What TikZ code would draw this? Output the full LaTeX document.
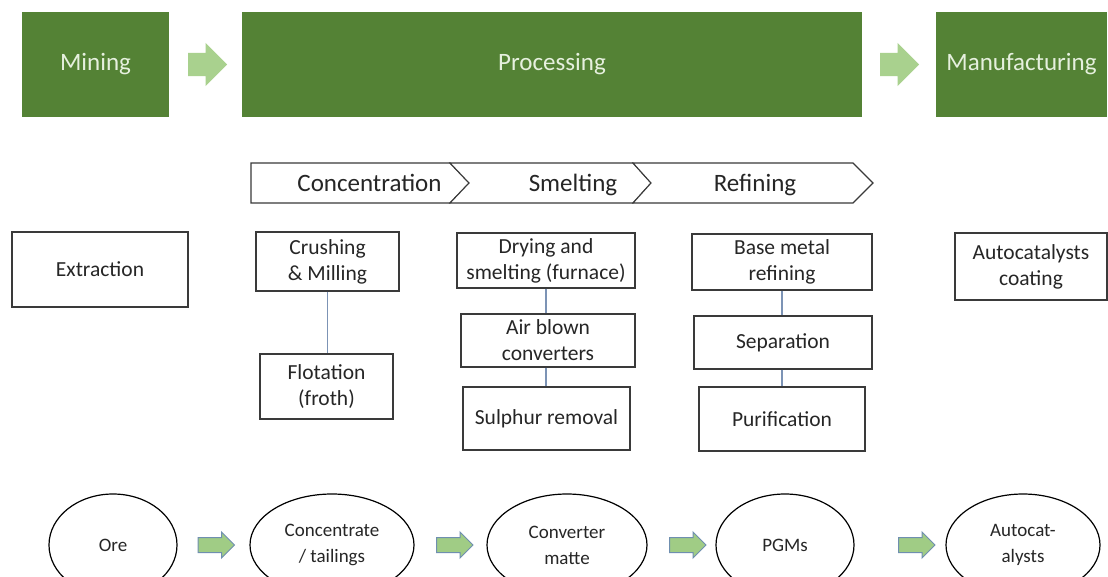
\documentclass[tikz,border=0pt]{standalone}
\usepackage{fontspec}
\setmainfont{Carlito}
\usetikzlibrary{shapes.geometric,shapes.arrows}

\definecolor{stagegreen}{HTML}{548235}
\definecolor{stagetext}{HTML}{E6F0DE}
\definecolor{paleGreen}{HTML}{A9D18E}
\definecolor{flowGreen}{HTML}{A0CC85}
\definecolor{flowEdge}{HTML}{6F8FB0}
\definecolor{boxline}{HTML}{3A3A3A}
\definecolor{linkblue}{HTML}{7C93B5}
\definecolor{inktext}{HTML}{262626}

\tikzset{
  stage/.style={rectangle, fill=stagegreen, draw=none, text=stagetext,
    inner sep=0pt, font=\fontsize{25}{30}\selectfont},
  bigarrow/.style={single arrow, fill=paleGreen, draw=none,
    inner xsep=0pt, inner ysep=11.5pt,
    minimum height=39pt, single arrow head extend=10pt, anchor=tail},
  flowarrow/.style={single arrow, fill=flowGreen, draw=flowEdge, line width=1pt,
    inner xsep=0pt, inner ysep=7pt, minimum height=36.5pt,
    single arrow head extend=5.5pt, anchor=tail},
  chevron/.style={draw=boxline, line width=1.1pt, fill=white, line join=miter},
  phase/.style={text=inktext, inner sep=0pt, anchor=base,
    font=\fontsize{25}{30}\selectfont},
  procbox/.style={rectangle, draw=boxline, line width=1.4pt, fill=white,
    text=inktext, inner sep=0pt, align=center,
    font=\fontsize{21.5}{26}\selectfont},
  link/.style={draw=linkblue, line width=1.3pt},
  product/.style={ellipse, draw=black, line width=1.2pt, fill=white,
    text=inktext, inner sep=0pt, align=center, minimum height=102pt,
    font=\fontsize{19}{26}\selectfont},
}

\begin{document}
\begin{tikzpicture}[x=1pt,y=-1pt]
\clip (0,0) rectangle (1108,576);
\fill[white] (0,0) rectangle (1108,576);

% value chain stages
\node[stage, minimum width=147pt, minimum height=105pt] (mining) at (95.5,64.5) {Mining};
\node[stage, minimum width=620pt, minimum height=105pt] (processing) at (552,64.5) {Processing};
\node[stage, minimum width=171pt, minimum height=105pt] (manufacturing) at (1021.5,64.5) {Manufacturing};
\node[bigarrow] (stagearrowA) at (188,64.5) {};
\node[bigarrow] (stagearrowB) at (880,64.5) {};

% processing phases
\path[chevron] (251,163) -- (450,163) -- (469,183) -- (450,203) -- (251,203) -- cycle;
\path[chevron] (450,163) -- (633,163) -- (651,183) -- (633,203) -- (450,203) -- (469,183) -- cycle;
\path[chevron] (633,163) -- (853,163) -- (873,183) -- (853,203) -- (633,203) -- (651,183) -- cycle;
\node[phase] (concentration) at (369.5,191) {Concentration};
\node[phase] (smelting) at (573,191) {Smelting};
\node[phase] (refining) at (755,191) {Refining};

% activities
\node[procbox, minimum width=176pt, minimum height=75pt] (extraction) at (100,269.5) {Extraction};
\node[procbox, minimum width=143pt, minimum height=59pt] (crushing) at (327.5,261.5) {Crushing\\\& Milling};
\node[procbox, minimum width=133pt, minimum height=65pt] (flotation) at (326.5,386.5) {Flotation\\(froth)};
\node[procbox, minimum width=178pt, minimum height=55pt] (drying) at (546,260.5) {Drying and\\smelting (furnace)};
\node[procbox, minimum width=174pt, minimum height=53pt] (converters) at (548,340.5) {Air blown\\converters};
\node[procbox, minimum width=167pt, minimum height=63pt] (sulphur) at (546.5,418.5) {Sulphur removal};
\node[procbox, minimum width=180pt, minimum height=56pt] (basemetal) at (782,262) {Base metal\\refining};
\node[procbox, minimum width=178pt, minimum height=53pt] (separation) at (783,342.5) {Separation};
\node[procbox, minimum width=166pt, minimum height=64pt] (purification) at (782,419) {Purification};
\node[procbox, minimum width=152pt, minimum height=67pt] (coating) at (1031,266.5) {Autocatalysts\\coating};

\draw[link] (crushing.south) -- (crushing.south |- flotation.north);
\draw[link] (drying.south) -- (drying.south |- converters.north);
\draw[link] (drying.south |- converters.south) -- (drying.south |- sulphur.north);
\draw[link] (basemetal.south) -- (basemetal.south |- separation.north);
\draw[link] (basemetal.south |- separation.south) -- (basemetal.south |- purification.north);

% material flow
\node[product, minimum width=128pt] (ore) at (113,545) {Ore};
\node[product, minimum width=164pt] (concentrate) at (332,545) {Concentrate\\/ tailings};
\node[product, minimum width=160pt] (matte) at (567,545) {Converter\\matte};
\node[product, minimum width=138pt] (pgms) at (785,545) {PGMs};
\node[product, minimum width=154pt] (autocat) at (1023,545) {Autocat-\\alysts};
\node[flowarrow] (flowA) at (197.5,545) {};
\node[flowarrow] (flowB) at (436,545) {};
\node[flowarrow] (flowC) at (669,545) {};
\node[flowarrow] (flowD) at (898,545) {};
\end{tikzpicture}
\end{document}
